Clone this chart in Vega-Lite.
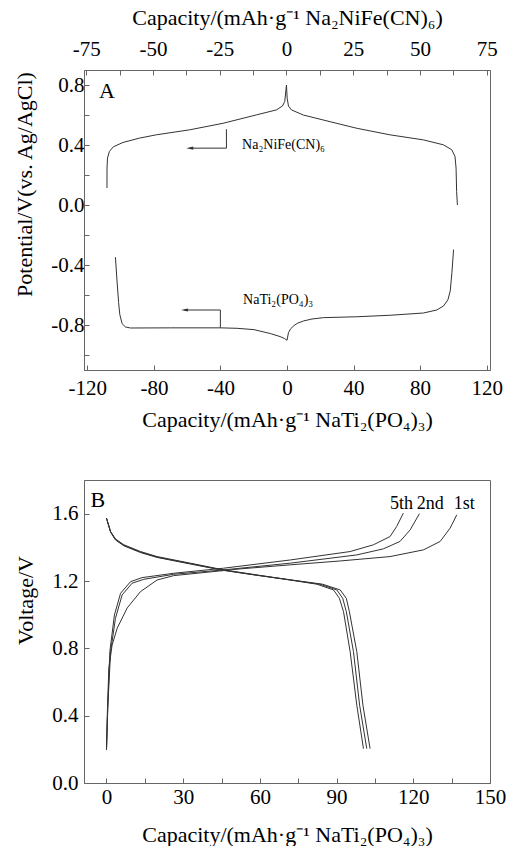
{
  "$schema": "https://vega.github.io/schema/vega-lite/v6.json",
  "background": "white",
  "padding": {"left": 13, "right": 5, "top": 5, "bottom": 0},
  "spacing": 48,
  "config": {
    "font": "Liberation Serif",
    "view": {"stroke": "#666", "strokeWidth": 1},
    "axis": {
      "labelFont": "Liberation Serif", "labelFontSize": 21, "labelColor": "#000",
      "titleFont": "Liberation Serif", "titleFontSize": 22, "titleFontWeight": "normal", "titleColor": "#000",
      "domainColor": "#666", "tickColor": "#666", "grid": false, "tickSize": -5,
      "labelFlush": false, "labelOverlap": false, "labelPadding": 8, "titlePadding": 8
    }
  },
  "datasets": {
    "ntp": [
      {"cap": -103.1, "v": -0.348}, {"cap": -102.2, "v": -0.5}, {"cap": -101.2, "v": -0.65},
      {"cap": -100.5, "v": -0.729}, {"cap": -99.1, "v": -0.791}, {"cap": -97.1, "v": -0.813},
      {"cap": -94.1, "v": -0.82}, {"cap": -70, "v": -0.819}, {"cap": -40.1, "v": -0.819},
      {"cap": -30, "v": -0.822}, {"cap": -19.8, "v": -0.831}, {"cap": -10, "v": -0.857},
      {"cap": -4.2, "v": -0.877}, {"cap": -1.5, "v": -0.89}, {"cap": 0, "v": -0.902},
      {"cap": 0.9, "v": -0.851}, {"cap": 2.2, "v": -0.825}, {"cap": 4.2, "v": -0.804},
      {"cap": 6.5, "v": -0.787}, {"cap": 10, "v": -0.773}, {"cap": 15, "v": -0.76},
      {"cap": 22, "v": -0.751}, {"cap": 42, "v": -0.745}, {"cap": 62, "v": -0.735},
      {"cap": 82, "v": -0.72}, {"cap": 90, "v": -0.7}, {"cap": 94.1, "v": -0.673},
      {"cap": 96.7, "v": -0.632}, {"cap": 98.1, "v": -0.574}, {"cap": 99.1, "v": -0.452},
      {"cap": 100.1, "v": -0.297}
    ],
    "nnf": [
      {"cap": -67.2, "v": 0.113}, {"cap": -67.18, "v": 0.246}, {"cap": -67.0, "v": 0.313},
      {"cap": -66.3, "v": 0.357}, {"cap": -64.8, "v": 0.388}, {"cap": -61.2, "v": 0.417},
      {"cap": -55.0, "v": 0.446}, {"cap": -48.7, "v": 0.468}, {"cap": -36.3, "v": 0.501},
      {"cap": -23.7, "v": 0.545}, {"cap": -11.2, "v": 0.601}, {"cap": -3.75, "v": 0.634},
      {"cap": -1.5, "v": 0.66}, {"cap": -0.64, "v": 0.69}, {"cap": 0, "v": 0.8},
      {"cap": 0.26, "v": 0.712}, {"cap": 0.75, "v": 0.66}, {"cap": 1.87, "v": 0.634},
      {"cap": 6.3, "v": 0.6}, {"cap": 13.7, "v": 0.567}, {"cap": 26.2, "v": 0.512},
      {"cap": 38.7, "v": 0.468}, {"cap": 51.3, "v": 0.434}, {"cap": 58.8, "v": 0.401},
      {"cap": 61.9, "v": 0.368}, {"cap": 63.1, "v": 0.324}, {"cap": 63.5, "v": 0.246},
      {"cap": 63.7, "v": 0.091}, {"cap": 64.0, "v": 0.0}
    ],
    "arrowsA": [
      {"cap": -36.4, "cap2": -36.4, "v": 0.505, "v2": 0.379},
      {"cap": -36.4, "cap2": -58.5, "v": 0.379, "v2": 0.379},
      {"cap": -40.05, "cap2": -40.05, "v": -0.818, "v2": -0.7},
      {"cap": -40.05, "cap2": -61.7, "v": -0.7, "v2": -0.7}
    ],
    "headsA": [
      {"cap": -58.4, "v": 0.379},
      {"cap": -61.6, "v": -0.7}
    ],
    "formulasA": [
      {"cap": -27, "v": 0.397, "t": "Na₂NiFe(CN)₆"},
      {"cap": -26.4, "v": -0.633, "t": "NaTi₂(PO₄)₃"}
    ],
    "panelA": [{"cap": -113, "v": 0.758, "t": "A"}],
    "cycles": [
      {"c": "c1", "cap": 0, "v": 0.198}, {"c": "c1", "cap": 0.26, "v": 0.383}, {"c": "c1", "cap": 0.9, "v": 0.68},
      {"c": "c1", "cap": 2.2, "v": 0.82}, {"c": "c1", "cap": 4.2, "v": 0.92}, {"c": "c1", "cap": 8.1, "v": 1.04},
      {"c": "c1", "cap": 13.3, "v": 1.137}, {"c": "c1", "cap": 19.8, "v": 1.206}, {"c": "c1", "cap": 26.3, "v": 1.232},
      {"c": "c1", "cap": 39.3, "v": 1.252}, {"c": "c1", "cap": 52.3, "v": 1.272}, {"c": "c1", "cap": 71.9, "v": 1.296},
      {"c": "c1", "cap": 91.4, "v": 1.319}, {"c": "c1", "cap": 110.9, "v": 1.345}, {"c": "c1", "cap": 124, "v": 1.385},
      {"c": "c1", "cap": 130.5, "v": 1.435}, {"c": "c1", "cap": 134.4, "v": 1.514}, {"c": "c1", "cap": 137, "v": 1.593},

      {"c": "c2", "cap": 0, "v": 0.198}, {"c": "c2", "cap": 0.5, "v": 0.45}, {"c": "c2", "cap": 1.6, "v": 0.78},
      {"c": "c2", "cap": 3.5, "v": 0.978}, {"c": "c2", "cap": 6.1, "v": 1.117}, {"c": "c2", "cap": 10, "v": 1.187},
      {"c": "c2", "cap": 14.6, "v": 1.21}, {"c": "c2", "cap": 26.3, "v": 1.24}, {"c": "c2", "cap": 45.8, "v": 1.266},
      {"c": "c2", "cap": 71.9, "v": 1.306}, {"c": "c2", "cap": 97.9, "v": 1.355}, {"c": "c2", "cap": 108.3, "v": 1.391},
      {"c": "c2", "cap": 114.8, "v": 1.435}, {"c": "c2", "cap": 118.8, "v": 1.504}, {"c": "c2", "cap": 122.4, "v": 1.6},

      {"c": "c5", "cap": 0, "v": 0.198}, {"c": "c5", "cap": 0.5, "v": 0.45}, {"c": "c5", "cap": 1.3, "v": 0.78},
      {"c": "c5", "cap": 3.1, "v": 0.998}, {"c": "c5", "cap": 5.5, "v": 1.127}, {"c": "c5", "cap": 9.4, "v": 1.196},
      {"c": "c5", "cap": 13.9, "v": 1.22}, {"c": "c5", "cap": 26.3, "v": 1.246}, {"c": "c5", "cap": 45.8, "v": 1.276},
      {"c": "c5", "cap": 71.9, "v": 1.325}, {"c": "c5", "cap": 95.3, "v": 1.375}, {"c": "c5", "cap": 104.4, "v": 1.415},
      {"c": "c5", "cap": 110.9, "v": 1.464}, {"c": "c5", "cap": 113.5, "v": 1.524}, {"c": "c5", "cap": 116.1, "v": 1.603},

      {"c": "d5", "cap": 0, "v": 1.573}, {"c": "d5", "cap": 1.6, "v": 1.494}, {"c": "d5", "cap": 3.5, "v": 1.45},
      {"c": "d5", "cap": 6.8, "v": 1.415}, {"c": "d5", "cap": 13.3, "v": 1.375}, {"c": "d5", "cap": 19.8, "v": 1.345},
      {"c": "d5", "cap": 32.8, "v": 1.306}, {"c": "d5", "cap": 45.8, "v": 1.266}, {"c": "d5", "cap": 58.9, "v": 1.236},
      {"c": "d5", "cap": 71.9, "v": 1.206}, {"c": "d5", "cap": 82.3, "v": 1.181}, {"c": "d5", "cap": 88.8, "v": 1.147},
      {"c": "d5", "cap": 91.1, "v": 1.097}, {"c": "d5", "cap": 92.7, "v": 1.018}, {"c": "d5", "cap": 95.3, "v": 0.78},
      {"c": "d5", "cap": 97.9, "v": 0.462}, {"c": "d5", "cap": 100.5, "v": 0.204},

      {"c": "d2", "cap": 0, "v": 1.573}, {"c": "d2", "cap": 1.6, "v": 1.492}, {"c": "d2", "cap": 3.5, "v": 1.447},
      {"c": "d2", "cap": 6.8, "v": 1.412}, {"c": "d2", "cap": 13.3, "v": 1.372}, {"c": "d2", "cap": 19.8, "v": 1.342},
      {"c": "d2", "cap": 32.8, "v": 1.303}, {"c": "d2", "cap": 45.8, "v": 1.264}, {"c": "d2", "cap": 58.9, "v": 1.234},
      {"c": "d2", "cap": 71.9, "v": 1.206}, {"c": "d2", "cap": 83.5, "v": 1.181}, {"c": "d2", "cap": 90.1, "v": 1.147},
      {"c": "d2", "cap": 92.4, "v": 1.097}, {"c": "d2", "cap": 93.8, "v": 1.018}, {"c": "d2", "cap": 96.6, "v": 0.78},
      {"c": "d2", "cap": 99, "v": 0.462}, {"c": "d2", "cap": 101.8, "v": 0.204},

      {"c": "d1", "cap": 0, "v": 1.573}, {"c": "d1", "cap": 1.6, "v": 1.49}, {"c": "d1", "cap": 3.5, "v": 1.444},
      {"c": "d1", "cap": 6.8, "v": 1.409}, {"c": "d1", "cap": 13.3, "v": 1.369}, {"c": "d1", "cap": 19.8, "v": 1.34},
      {"c": "d1", "cap": 32.8, "v": 1.301}, {"c": "d1", "cap": 45.8, "v": 1.263}, {"c": "d1", "cap": 58.9, "v": 1.234},
      {"c": "d1", "cap": 71.9, "v": 1.207}, {"c": "d1", "cap": 84.5, "v": 1.181}, {"c": "d1", "cap": 91.4, "v": 1.147},
      {"c": "d1", "cap": 93.8, "v": 1.097}, {"c": "d1", "cap": 95, "v": 1.018}, {"c": "d1", "cap": 97.9, "v": 0.78},
      {"c": "d1", "cap": 100.3, "v": 0.462}, {"c": "d1", "cap": 103.1, "v": 0.204}
    ],
    "cycleLabels": [
      {"cap": 115.4, "v": 1.655, "t": "5th"},
      {"cap": 126.6, "v": 1.655, "t": "2nd"},
      {"cap": 139.9, "v": 1.655, "t": "1st"}
    ],
    "panelB": [{"cap": -6.3, "v": 1.68, "t": "B"}]
  },
  "vconcat": [
    {
      "width": 406,
      "height": 300,
      "layer": [
        {
          "layer": [
            {
              "data": {"name": "ntp"},
              "mark": {"type": "line", "color": "#333", "strokeWidth": 1},
              "encoding": {
                "x": {
                  "field": "cap", "type": "quantitative",
                  "scale": {"domain": [-122, 122], "nice": false, "zero": false},
                  "axis": {
                    "orient": "bottom",
                    "title": "Capacity/(mAh·g⁻¹ NaTi₂(PO₄)₃)",
                    "values": [-120, -100, -80, -60, -40, -20, 0, 20, 40, 60, 80, 100, 120],
                    "labelExpr": "datum.value % 40 == 0 ? (datum.value < 0 ? '-' : '') + abs(datum.value) : ''",
                    "labelPadding": 12, "titlePadding": 11
                  }
                },
                "y": {
                  "field": "v", "type": "quantitative",
                  "scale": {"domain": [-1.1, 0.9], "nice": false, "zero": false},
                  "axis": {
                    "title": "Potential/V(vs. Ag/AgCl)",
                    "values": [-1.0, -0.8, -0.6, -0.4, -0.2, 0, 0.2, 0.4, 0.6, 0.8],
                    "labelExpr": "round(datum.value * 10) % 4 == 0 ? replace(format(datum.value, '.1f'), '−', '-') : ''",
                    "labelPadding": 5, "titlePadding": 14, "titleY": 114
                  }
                }
              }
            },
            {
              "data": {"name": "arrowsA"},
              "mark": {"type": "rule", "color": "#333", "strokeWidth": 1},
              "encoding": {
                "x": {"field": "cap", "type": "quantitative", "scale": {"domain": [-122, 122], "nice": false, "zero": false}},
                "x2": {"field": "cap2"},
                "y": {
                  "field": "v", "type": "quantitative",
                  "scale": {"domain": [-1.1, 0.9], "nice": false, "zero": false},
                  "axis": {
                    "title": "Potential/V(vs. Ag/AgCl)",
                    "values": [-1.0, -0.8, -0.6, -0.4, -0.2, 0, 0.2, 0.4, 0.6, 0.8],
                    "labelExpr": "round(datum.value * 10) % 4 == 0 ? replace(format(datum.value, '.1f'), '−', '-') : ''",
                    "labelPadding": 5, "titlePadding": 14, "titleY": 114
                  }
                },
                "y2": {"field": "v2"}
              }
            },
            {
              "data": {"name": "headsA"},
              "mark": {"type": "point", "shape": "M -1 0 L 1 -0.45 L 1 0.45 Z", "filled": true, "color": "#333", "size": 49, "opacity": 1},
              "encoding": {
                "x": {"field": "cap", "type": "quantitative", "scale": {"domain": [-122, 122], "nice": false, "zero": false}},
                "y": {
                  "field": "v", "type": "quantitative",
                  "scale": {"domain": [-1.1, 0.9], "nice": false, "zero": false},
                  "axis": {
                    "title": "Potential/V(vs. Ag/AgCl)",
                    "values": [-1.0, -0.8, -0.6, -0.4, -0.2, 0, 0.2, 0.4, 0.6, 0.8],
                    "labelExpr": "round(datum.value * 10) % 4 == 0 ? replace(format(datum.value, '.1f'), '−', '-') : ''",
                    "labelPadding": 5, "titlePadding": 14, "titleY": 114
                  }
                }
              }
            },
            {
              "data": {"name": "formulasA"},
              "mark": {"type": "text", "align": "left", "baseline": "middle", "font": "Liberation Serif", "fontSize": 14, "color": "#000"},
              "encoding": {
                "x": {"field": "cap", "type": "quantitative", "scale": {"domain": [-122, 122], "nice": false, "zero": false}},
                "y": {
                  "field": "v", "type": "quantitative",
                  "scale": {"domain": [-1.1, 0.9], "nice": false, "zero": false},
                  "axis": {
                    "title": "Potential/V(vs. Ag/AgCl)",
                    "values": [-1.0, -0.8, -0.6, -0.4, -0.2, 0, 0.2, 0.4, 0.6, 0.8],
                    "labelExpr": "round(datum.value * 10) % 4 == 0 ? replace(format(datum.value, '.1f'), '−', '-') : ''",
                    "labelPadding": 5, "titlePadding": 14, "titleY": 114
                  }
                },
                "text": {"field": "t"}
              }
            },
            {
              "data": {"name": "panelA"},
              "mark": {"type": "text", "align": "left", "baseline": "middle", "font": "Liberation Serif", "fontSize": 22, "color": "#000"},
              "encoding": {
                "x": {"field": "cap", "type": "quantitative", "scale": {"domain": [-122, 122], "nice": false, "zero": false}},
                "y": {
                  "field": "v", "type": "quantitative",
                  "scale": {"domain": [-1.1, 0.9], "nice": false, "zero": false},
                  "axis": {
                    "title": "Potential/V(vs. Ag/AgCl)",
                    "values": [-1.0, -0.8, -0.6, -0.4, -0.2, 0, 0.2, 0.4, 0.6, 0.8],
                    "labelExpr": "round(datum.value * 10) % 4 == 0 ? replace(format(datum.value, '.1f'), '−', '-') : ''",
                    "labelPadding": 5, "titlePadding": 14, "titleY": 114
                  }
                },
                "text": {"field": "t"}
              }
            }
          ]
        },
        {
          "data": {"name": "nnf"},
          "mark": {"type": "line", "color": "#333", "strokeWidth": 1},
          "encoding": {
            "x": {
              "field": "cap", "type": "quantitative",
              "scale": {"domain": [-75.8, 76.2], "nice": false, "zero": false},
              "axis": {
                "orient": "top",
                "title": "Capacity/(mAh·g⁻¹ Na₂NiFe(CN)₆)",
                "values": [-75, -62.5, -50, -37.5, -25, -12.5, 0, 12.5, 25, 37.5, 50, 62.5, 75],
                "labelExpr": "datum.value % 25 == 0 ? (datum.value < 0 ? '-' : '') + abs(datum.value) : ''",
                "labelPadding": 16, "titlePadding": 9
              }
            },
            "y": {
              "field": "v", "type": "quantitative",
              "scale": {"domain": [-1.1, 0.9], "nice": false, "zero": false},
              "axis": {
                "title": "Potential/V(vs. Ag/AgCl)",
                "values": [-1.0, -0.8, -0.6, -0.4, -0.2, 0, 0.2, 0.4, 0.6, 0.8],
                "labelExpr": "round(datum.value * 10) % 4 == 0 ? replace(format(datum.value, '.1f'), '−', '-') : ''",
                "labelPadding": 5, "titlePadding": 14, "titleY": 114
              }
            }
          }
        }
      ],
      "resolve": {"scale": {"x": "independent"}, "axis": {"x": "independent"}}
    },
    {
      "width": 406,
      "height": 303,
      "layer": [
        {
          "data": {"name": "cycles"},
          "mark": {"type": "line", "color": "#333", "strokeWidth": 1},
          "encoding": {
            "x": {
              "field": "cap", "type": "quantitative",
              "scale": {"domain": [-8.8, 150], "nice": false, "zero": false},
              "axis": {
                "title": "Capacity/(mAh·g⁻¹ NaTi₂(PO₄)₃)",
                "values": [0, 15, 30, 45, 60, 75, 90, 105, 120, 135, 150],
                "labelExpr": "datum.value % 30 == 0 ? '' + datum.value : ''",
                "labelPadding": 8, "titlePadding": 17
              }
            },
            "y": {
              "field": "v", "type": "quantitative",
              "scale": {"domain": [0, 1.8], "nice": false, "zero": false},
              "axis": {
                "title": "Voltage/V",
                "values": [0, 0.2, 0.4, 0.6, 0.8, 1.0, 1.2, 1.4, 1.6],
                "labelExpr": "round(datum.value * 10) % 4 == 0 ? format(datum.value, '.1f') : ''",
                "labelPadding": 11, "titlePadding": 14, "titleY": 120
              }
            },
            "detail": {"field": "c"}
          }
        },
        {
          "data": {"name": "cycleLabels"},
          "mark": {"type": "text", "align": "center", "baseline": "middle", "font": "Liberation Serif", "fontSize": 18, "color": "#000"},
          "encoding": {
            "x": {"field": "cap", "type": "quantitative"},
            "y": {"field": "v", "type": "quantitative"},
            "text": {"field": "t"}
          }
        },
        {
          "data": {"name": "panelB"},
          "mark": {"type": "text", "align": "left", "baseline": "middle", "font": "Liberation Serif", "fontSize": 22, "color": "#000"},
          "encoding": {
            "x": {"field": "cap", "type": "quantitative"},
            "y": {"field": "v", "type": "quantitative"},
            "text": {"field": "t"}
          }
        }
      ]
    }
  ]
}
